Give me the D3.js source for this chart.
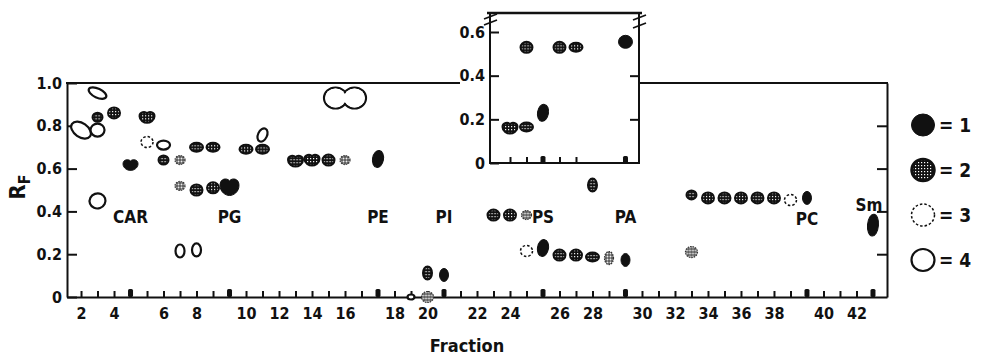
<!DOCTYPE html>
<html>
<head>
<meta charset="utf-8">
<script src="https://cdn.jsdelivr.net/npm/d3@7/dist/d3.min.js"></script>
<style>
body { margin: 0; background: #fff; }
text { font-family: "DejaVu Sans Condensed", "DejaVu Sans", sans-serif; font-weight: bold; fill: #111; }
.axis path, .axis line { stroke: #111; stroke-width: 2; }
</style>
</head>
<body>
<svg id="chart" width="982" height="358"></svg>
<script>
// lanes along the plate: fractions with the standards run in between
var lanes = ["2","3","4","CAR","5","6","7","8","9","PG","10","11","12","13","14","15","16","17","PE",
             "18","19","20","PI","21","22","23","24","25","PS","26","27","28","29","PA",
             "30","31","32","33","34","35","36","37","38","39","PC","40","41","42","Sm"];
var fractionLabels = ["2","4","6","8","10","12","14","16","18","20","22","24","26","28","30","32","34","36","38","40","42"];
var standards = ["CAR","PG","PE","PI","PS","PA","PC","Sm"];
var standardLabelRf = [0.375, 0.375, 0.375, 0.375, 0.375, 0.375, 0.365, 0.43];
var rfTicks = [0, 0.2, 0.4, 0.6, 0.8, 1.0];
var insetRfTicks = [0, 0.2, 0.4, 0.6];
var insetLanes = ["24","25","PS","26","27","PA"];
var legendKeys = [1, 2, 3, 4];

// spots: [lane, Rf, spot shape]
var spots1 = [["CAR",0.617,"h"],["PG",0.514,"H"],["PE",0.645,"T"],["PI",0.103,"t"],["PS",0.229,"T"],
              ["PA",0.173,"t"],["PC",0.463,"t"],["Sm",0.336,"L"]];
var spots2 = [["3",0.84,"s"],["4",0.86,"r"],["5",0.84,"h"],["6",0.64,"s"],["8",0.50,"r"],["9",0.51,"r"],
              ["8",0.70,"w"],["9",0.70,"w"],["10",0.69,"w"],["11",0.69,"w"],
              ["13",0.635,"h"],["14",0.64,"h"],["15",0.64,"r"],
              ["20",0.112,"t"],["23",0.383,"r"],["24",0.383,"r"],
              ["26",0.196,"r"],["27",0.196,"r"],["28",0.187,"w"],["28",0.523,"t"],
              ["33",0.477,"s"],["34",0.463,"r"],["35",0.463,"r"],["36",0.463,"r"],["37",0.463,"r"],["38",0.463,"r"]];
var spots2faint = [["7",0.64,"s"],["7",0.519,"s"],["16",0.64,"s"],["20",0.0,"r"],["25",0.383,"s"],
                   ["29",0.182,"t"],["33",0.21,"r"]];
var spots3 = [["5",0.724,"r"],["25",0.215,"r"],["39",0.453,"r"]];
var spots4 = [["3",0.953,"b"],["2",0.78,"B"],["3",0.78,"o"],["3",0.449,"O"],["6",0.71,"w"],
              ["7",0.215,"t"],["8",0.22,"t"],["11",0.757,"k"],["16",0.93,"x"],["19",0.0,"n"]];
var inset1 = [["PS",0.23,"T"],["PA",0.555,"o"]];
var inset2 = [["24",0.16,"h"],["25",0.165,"w"],["25",0.53,"r"],["26",0.53,"r"],["27",0.53,"w"]];

var svg = d3.select("#chart");

// [rx, ry, rotation]
var shapeSize = {
  n: [3.5, 2.5, 0], s: [5, 4.5, 0], r: [6, 5.5, 0], w: [6.5, 4.5, 0], t: [4.5, 6.5, 0],
  T: [5.5, 8.5, 10], L: [5.5, 11, 5], o: [7, 6.5, 0], O: [8, 7.5, -20], B: [11, 7, 35],
  b: [9.5, 4.5, 25], k: [4.5, 7, 25]
};

var x = d3.scalePoint().domain(lanes).range([67, 887]).padding(0.85);
var y = d3.scaleLinear().domain([0, 1]).range([297, 83]);
var yIn = d3.scaleLinear().domain([0, 0.6]).range([163, 32]);

var defs = svg.append("defs");
var p = defs.append("pattern").attr("id", "stip").attr("width", 3).attr("height", 3)
    .attr("patternUnits", "userSpaceOnUse");
p.append("rect").attr("width", 3).attr("height", 3).attr("fill", "#111");
p.append("rect").attr("x", 1).attr("y", 1).attr("width", 1.2).attr("height", 1.2).attr("fill", "#fff");
var pf = defs.append("pattern").attr("id", "stipFaint").attr("width", 3).attr("height", 3)
    .attr("patternUnits", "userSpaceOnUse");
pf.append("rect").attr("width", 3).attr("height", 3).attr("fill", "#555");
pf.append("circle").attr("cx", 1.5).attr("cy", 1.5).attr("r", 1).attr("fill", "#f2f2f2");

// rounded blob with a shallow notch on top
function heart(w, h) {
  var a = w / 2, b = h / 2;
  return "M0," + (-b * 0.72) +
    "C" + (a * 0.25) + "," + (-b * 1.1) + " " + a + "," + (-b * 1.05) + " " + a + "," + (-b * 0.2) +
    "C" + a + "," + (b * 0.6) + " " + (a * 0.4) + "," + b + " 0," + b +
    "C" + (-a * 0.4) + "," + b + " " + (-a) + "," + (b * 0.6) + " " + (-a) + "," + (-b * 0.2) +
    "C" + (-a) + "," + (-b * 1.05) + " " + (-a * 0.25) + "," + (-b * 1.1) + " 0," + (-b * 0.72) + "Z";
}

function styleSpot(sel, type, faint) {
  if (type === 1) sel.attr("fill", "#111").attr("stroke", "#111").attr("stroke-width", 1);
  else if (type === 2) sel.attr("fill", faint ? "url(#stipFaint)" : "url(#stip)")
      .attr("stroke", faint ? "#333" : "#111").attr("stroke-width", faint ? 1.2 : 2)
      .attr("stroke-dasharray", faint ? "1.5,1" : null);
  else if (type === 3) sel.attr("fill", "#fff").attr("stroke", "#111").attr("stroke-width", 1.5)
      .attr("stroke-dasharray", "2.5,2");
  else sel.attr("fill", "#fff").attr("stroke", "#111").attr("stroke-width", 2.2);
}

function drawSpots(layer, data, ys, type, faint) {
  layer.append("g").selectAll("g")
    .data(data)
    .enter().append("g")
    .attr("transform", function(d) { return "translate(" + x(d[0]) + "," + ys(d[1]) + ")"; })
    .each(function(d) {
      var s = d3.select(this), k = d[2];
      if (k === "h" || k === "H") {
        styleSpot(s.append("path").attr("d", k === "h" ? heart(15, 11) : heart(19, 17)), type, faint);
      } else if (k === "x") {
        // two merged rings
        [-9.5, 9.5].forEach(function(cx) {
          styleSpot(s.append("ellipse").attr("cx", cx).attr("rx", 11.5).attr("ry", 10.5), type, faint);
        });
        [-9.5, 9.5].forEach(function(cx) {
          s.append("ellipse").attr("cx", cx).attr("rx", 10.4).attr("ry", 9.4).attr("fill", "#fff");
        });
      } else {
        var z = shapeSize[k];
        styleSpot(s.append("ellipse").attr("rx", z[0]).attr("ry", z[1])
          .attr("transform", "rotate(" + z[2] + ")"), type, faint);
      }
    });
}

var fmt = function(d) { return d === 0 ? "0" : d3.format(".1f")(d); };

// main frame
svg.append("g").attr("class", "axis").attr("transform", "translate(67,0)")
  .call(d3.axisLeft(y).tickValues(rfTicks).tickFormat(fmt).tickSizeInner(-10).tickSizeOuter(0).tickPadding(5))
  .selectAll("text").attr("font-size", 16);

svg.append("g").attr("class", "axis").attr("transform", "translate(887,0)")
  .call(d3.axisRight(y).tickValues([0.2, 0.4, 0.6, 0.8]).tickFormat("").tickSizeInner(-10).tickSizeOuter(0));

var xAxis = svg.append("g").attr("class", "axis").attr("transform", "translate(0,297)")
  .call(d3.axisBottom(x).tickSizeInner(-6).tickSizeOuter(0).tickPadding(11)
    .tickFormat(function(d) { return fractionLabels.indexOf(d) >= 0 ? d : ""; }));
xAxis.selectAll("text").attr("font-size", 16);

svg.append("g").selectAll("rect")
  .data(standards)
  .enter().append("rect")
  .attr("x", function(d) { return x(d) - 2.5; })
  .attr("y", 289).attr("width", 5).attr("height", 8).attr("rx", 1.5)
  .attr("fill", "#111");

svg.append("line").attr("x1", 66).attr("x2", 460).attr("y1", y(1)).attr("y2", y(1))
  .attr("stroke", "#111").attr("stroke-width", 2);
svg.append("line").attr("x1", 639).attr("x2", 888).attr("y1", y(1)).attr("y2", y(1))
  .attr("stroke", "#111").attr("stroke-width", 2);

// inset panel
var ins = svg.append("g");
ins.append("rect").attr("x", 490).attr("y", 13).attr("width", 149).attr("height", 150)
  .attr("fill", "#fff").attr("stroke", "#111").attr("stroke-width", 2);
ins.append("line").attr("x1", 487).attr("x2", 642).attr("y1", 13).attr("y2", 13)
  .attr("stroke", "#111").attr("stroke-width", 2.4);

var inL = ins.append("g").attr("class", "axis").attr("transform", "translate(490,0)")
  .call(d3.axisLeft(yIn).tickValues(insetRfTicks).tickFormat(fmt).tickSizeInner(-9).tickSizeOuter(0).tickPadding(5));
inL.select(".domain").remove();
inL.selectAll("text").attr("font-size", 16);

var inR = ins.append("g").attr("class", "axis").attr("transform", "translate(639,0)")
  .call(d3.axisRight(yIn).tickValues([0.2, 0.4]).tickFormat("").tickSizeInner(-9).tickSizeOuter(0));
inR.select(".domain").remove();

var inB = ins.append("g").attr("class", "axis").attr("transform", "translate(0,163)")
  .call(d3.axisBottom(x).tickValues(insetLanes).tickFormat("").tickSizeInner(-6).tickSizeOuter(0));
inB.select(".domain").remove();

ins.selectAll("rect.std")
  .data(["PS", "PA"])
  .enter().append("rect").attr("class", "std")
  .attr("x", function(d) { return x(d) - 2.5; })
  .attr("y", 156).attr("width", 5).attr("height", 7).attr("rx", 1.5).attr("fill", "#111");

// break marks at the top of the inset
[[490, 17], [490, 23], [639, 18], [639, 26]].forEach(function(b) {
  ins.append("line").attr("x1", b[0] - 6).attr("x2", b[0] + 7)
    .attr("y1", b[1] + 2).attr("y2", b[1] - 3)
    .attr("stroke", "#111").attr("stroke-width", 1.8);
});

// spots
var layer = svg.append("g");
drawSpots(layer, spots4, y, 4, false);
drawSpots(layer, spots3, y, 3, false);
drawSpots(layer, spots2, y, 2, false);
drawSpots(layer, spots2faint, y, 2, true);
drawSpots(layer, spots1, y, 1, false);
drawSpots(ins, inset2, yIn, 2, false);
drawSpots(ins, inset1, yIn, 1, false);

// standard labels
svg.append("g").selectAll("text")
  .data(standards)
  .enter().append("text")
  .attr("x", function(d) { return x(d) - (d === "Sm" ? 4 : 0); })
  .attr("y", function(d, i) { return y(standardLabelRf[i]); })
  .attr("dy", "0.35em")
  .attr("text-anchor", "middle")
  .attr("font-size", 17)
  .text(function(d) { return d; });

// axis titles
svg.append("text")
  .attr("x", 467).attr("y", 346).attr("dy", "0.35em")
  .attr("text-anchor", "middle").attr("font-size", 18)
  .text("Fraction");

var rf = svg.append("text")
  .attr("transform", "translate(25,187) rotate(-90)")
  .attr("text-anchor", "middle").attr("font-size", 22);
rf.append("tspan").text("R");
rf.append("tspan").attr("font-size", 16).attr("dy", 5).text("F");

// legend
var legend = svg.append("g")
  .selectAll("g")
  .data(legendKeys)
  .enter().append("g")
  .attr("transform", function(d, i) { return "translate(923," + (125 + i * 45) + ")"; });

legend.each(function(d) {
  styleSpot(d3.select(this).append("ellipse").attr("rx", 11.5).attr("ry", 11), d, false);
});
legend.select("ellipse").filter(function(d) { return d === 2; }).attr("stroke-width", 2.5);

legend.append("text")
  .attr("x", 16).attr("dy", "0.36em")
  .attr("font-family", "DejaVu Sans")
  .attr("font-weight", 600)
  .attr("font-size", 19)
  .text(function(d) { return "= " + d; });
</script>
</body>
</html>
